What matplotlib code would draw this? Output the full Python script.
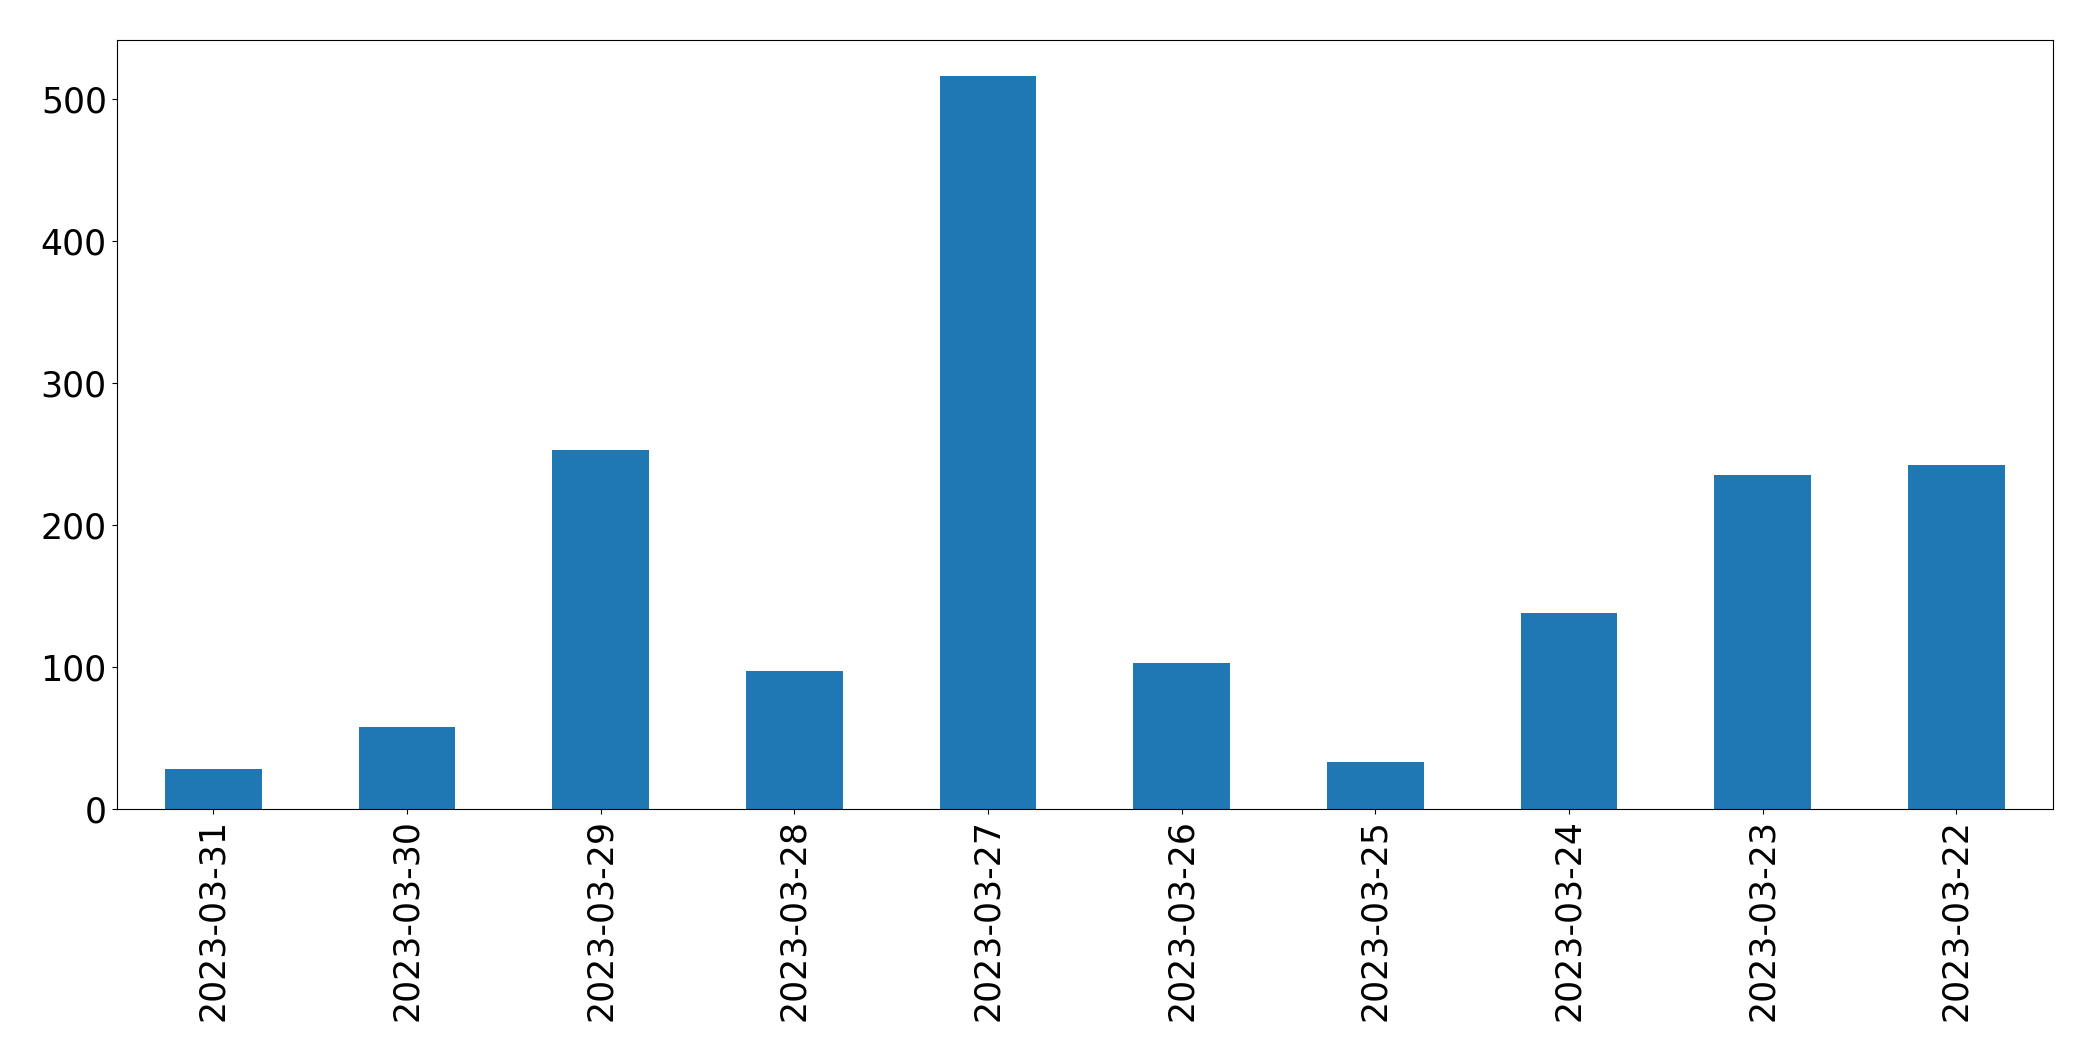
import numpy as np
import pandas as pd
import matplotlib
matplotlib.use('Agg')
import matplotlib.pyplot as plt

# daily counts, newest first
dates = ['2023-03-31', '2023-03-30', '2023-03-29', '2023-03-28', '2023-03-27',
         '2023-03-26', '2023-03-25', '2023-03-24', '2023-03-23', '2023-03-22']
counts = [28, 58, 253, 97, 516, 103, 33, 138, 235, 242]

s = pd.Series(counts, index=dates)

fig = plt.figure(figsize=(20.93, 10.61), dpi=100)
ax = fig.add_subplot(111)
s.plot(kind='bar', ax=ax, color='#1f77b4', fontsize=25)
ax.tick_params(axis='both', labelsize=25)
fig.subplots_adjust(left=0.0557, right=0.981, top=0.9626, bottom=0.2376)

plt.savefig('out.png', dpi=100)
